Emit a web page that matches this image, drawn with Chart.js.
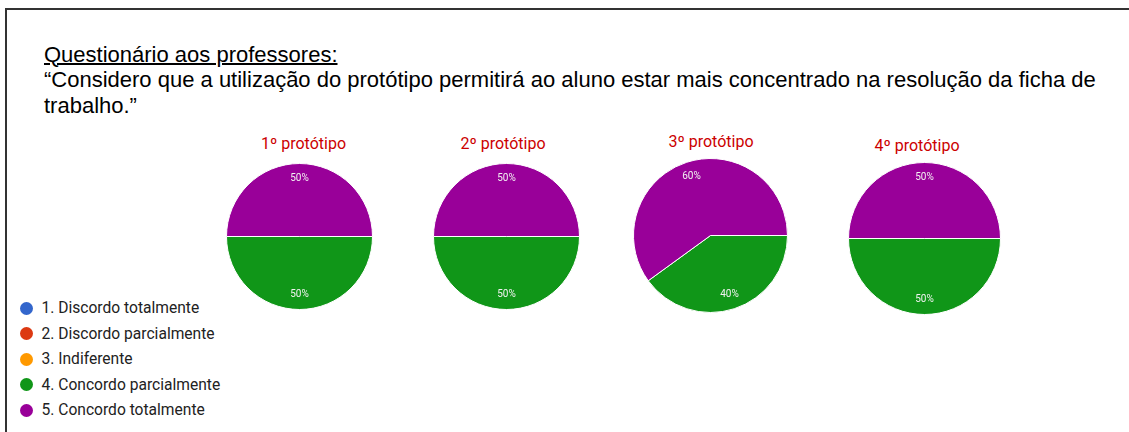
<!DOCTYPE html>
<html lang="pt">
<head>
<meta charset="utf-8">
<script src="https://cdn.jsdelivr.net/npm/chart.js@4.4.1/dist/chart.umd.min.js"></script>
<style>
  html, body { margin: 0; padding: 0; background: #fff; }
  #page { position: relative; width: 1129px; height: 432px; overflow: hidden; }
  #frame {
    position: absolute; left: 5px; top: 8px; right: -10px; bottom: -10px;
    border-top: 2px solid #333; border-left: 2px solid #333;
  }
  .header {
    position: absolute; left: 44px; top: 41.5px;
    font-family: "Liberation Sans", Arial, sans-serif; font-size: 22px; line-height: 25.5px;
    color: #000; white-space: nowrap;
  }
  .header u { text-decoration-thickness: 1.5px; }
  .pie-title {
    position: absolute; width: 160px; text-align: center;
    font-family: Roboto, sans-serif; font-size: 16px; line-height: 20px; color: #cc0000;
  }
  .pie-box { position: absolute; }
  #legend {
    position: absolute; left: 20px; top: 295.6px; list-style: none; margin: 0; padding: 0;
    font-family: Roboto, sans-serif; font-size: 15.6px; color: #222;
  }
  #legend li { height: 25.5px; display: flex; align-items: center; }
  #legend .dot { width: 13px; height: 13px; border-radius: 50%; margin-right: 8.5px; flex: none; }
</style>
</head>
<body>
<div id="page">
  <div id="frame"></div>
  <div class="header">
    <u>Questionário aos professores:</u><br>
    “Considero que a utilização do protótipo permitirá ao aluno estar mais concentrado na resolução da ficha de<br>
    trabalho.”
  </div>
  <ul id="legend"></ul>
</div>
<script>
  // answer options of the questionnaire
  const answerLabels = [
    "1. Discordo totalmente",
    "2. Discordo parcialmente",
    "3. Indiferente",
    "4. Concordo parcialmente",
    "5. Concordo totalmente",
  ];
  const answerColors = ["#3366cc", "#dc3912", "#ff9900", "#109618", "#990099"];

  const prototypeTitles = ["1º protótipo", "2º protótipo", "3º protótipo", "4º protótipo"];

  // share of answers (%) per option, one array per prototype
  const prototype1 = [0, 0, 0, 50, 50];
  const prototype2 = [0, 0, 0, 50, 50];
  const prototype3 = [0, 0, 0, 40, 60];
  const prototype4 = [0, 0, 0, 50, 50];

  const prototypeData = [prototype1, prototype2, prototype3, prototype4];

  // where each pie sits on the page (centre, radius) and where its title goes
  const pieLayout = [
    { cx: 299, cy: 236.5, r: 73, tx: 303.5, ty: 134 },
    { cx: 506, cy: 236, r: 73, tx: 503, ty: 134 },
    { cx: 710, cy: 235, r: 77, tx: 711, ty: 131.5 },
    { cx: 924, cy: 238, r: 76, tx: 917, ty: 136 },
  ];

  // percentage written inside each slice
  const sliceLabels = {
    id: "sliceLabels",
    afterDatasetsDraw(chart) {
      const ctx = chart.ctx;
      const values = chart.data.datasets[0].data;
      const total = values.reduce((a, b) => a + b, 0);
      const meta = chart.getDatasetMeta(0);
      ctx.save();
      ctx.font = "10px Roboto";
      ctx.fillStyle = "#f2f2f2";
      ctx.textAlign = "center";
      ctx.textBaseline = "middle";
      meta.data.forEach((arc, i) => {
        if (!values[i]) return;
        const { x, y, startAngle, endAngle, outerRadius } = arc.getProps(
          ["x", "y", "startAngle", "endAngle", "outerRadius"], true);
        const mid = (startAngle + endAngle) / 2;
        const rr = outerRadius * 0.8;
        const pct = Math.round((values[i] / total) * 100) + "%";
        ctx.fillText(pct, x + Math.cos(mid) * rr, y + Math.sin(mid) * rr);
      });
      ctx.restore();
    },
  };

  const page = document.getElementById("page");

  prototypeData.forEach((values, idx) => {
    const pos = pieLayout[idx];

    const title = document.createElement("div");
    title.className = "pie-title";
    title.textContent = prototypeTitles[idx];
    title.style.left = pos.tx - 80 + "px";
    title.style.top = pos.ty + "px";
    page.appendChild(title);

    const size = pos.r * 2 + 1;
    const box = document.createElement("div");
    box.className = "pie-box";
    box.style.left = Math.round(pos.cx - size / 2) + "px";
    box.style.top = Math.round(pos.cy - size / 2) + "px";
    const canvas = document.createElement("canvas");
    canvas.width = size;
    canvas.height = size;
    box.appendChild(canvas);
    page.appendChild(box);

    new Chart(canvas, {
      type: "pie",
      data: {
        labels: answerLabels,
        datasets: [
          {
            data: values,
            backgroundColor: answerColors,
            borderColor: "#ffffff",
            borderWidth: 1,
          },
        ],
      },
      options: {
        responsive: false,
        animation: false,
        events: [],
        rotation: 90,
        layout: { padding: 0 },
        plugins: {
          legend: { display: false },
          tooltip: { enabled: false },
        },
      },
      plugins: [sliceLabels],
    });
  });

  // shared legend for the four pies
  const legendEl = document.getElementById("legend");
  answerLabels.forEach((label, i) => {
    const li = document.createElement("li");
    const dot = document.createElement("span");
    dot.className = "dot";
    dot.style.background = answerColors[i];
    li.appendChild(dot);
    li.appendChild(document.createTextNode(label));
    legendEl.appendChild(li);
  });
</script>
</body>
</html>
